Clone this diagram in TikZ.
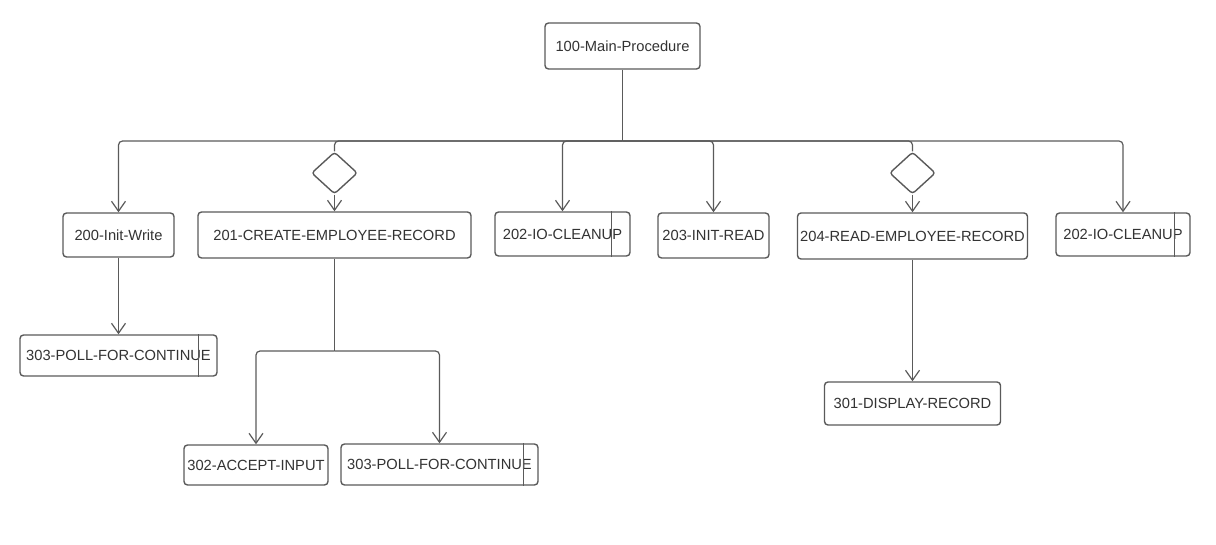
\documentclass[tikz,border=0pt]{standalone}
\usepackage{fontspec}
\setmainfont{Liberation Sans}
\usetikzlibrary{arrows.meta,shapes.geometric}
\definecolor{edge}{HTML}{5A5A5A}
\definecolor{ink}{HTML}{333333}
\begin{document}
\begin{tikzpicture}[x=1pt,y=-1pt,
  box/.style={draw=edge,line width=1.4pt,rounded corners=3.5pt,fill=white,
    inner sep=0pt,text=ink,font=\fontsize{14.7}{17}\selectfont},
  choice/.style={draw=edge,line width=1.4pt,diamond,rounded corners=3pt,
    minimum width=46pt,minimum height=42pt,inner sep=0pt},
  conn/.style={draw=edge,line width=1.2pt,rounded corners=4pt},
  arr/.style={conn,-{Straight Barb[length=10pt,width=14pt,line width=1.2pt]}},
  sub/.style={draw=edge,line width=1.4pt}]
\useasboundingbox (0,0) rectangle (1216,545);

% top level
\node[box,minimum width=155pt,minimum height=46pt] (main) at (622.5,46) {100-Main-Procedure};

% second level
\node[box,minimum width=111pt,minimum height=44pt] (iw)  at (118.5,235) {200-Init-Write};
\node[box,minimum width=273pt,minimum height=46pt] (cer) at (334.5,235) {201-CREATE-EMPLOYEE-RECORD};
\node[box,minimum width=135pt,minimum height=44pt] (cla) at (562.5,234) {202-IO-CLEANUP};
\node[box,minimum width=111pt,minimum height=45pt] (ir)  at (713.5,235.5) {203-INIT-READ};
\node[box,minimum width=230pt,minimum height=46pt] (rer) at (912.5,236) {204-READ-EMPLOYEE-RECORD};
\node[box,minimum width=134pt,minimum height=43pt] (clb) at (1123,234.5) {202-IO-CLEANUP};

% decision diamonds
\node[choice] (dca) at (334.5,173) {};
\node[choice] (dcb) at (912.5,173) {};

% third level
\node[box,minimum width=197pt,minimum height=41pt] (pla) at (118.5,355.5) {303-POLL-FOR-CONTINUE};
\node[box,minimum width=144pt,minimum height=40pt] (ai)  at (256,465) {302-ACCEPT-INPUT};
\node[box,minimum width=197pt,minimum height=41pt] (plb) at (439.5,464.5) {303-POLL-FOR-CONTINUE};
\node[box,minimum width=176pt,minimum height=43pt] (dr)  at (912.5,403.5) {301-DISPLAY-RECORD};

% predefined-process bars
\foreach \n/\d in {cla/19,clb/16,pla/19,plb/15}{
  \draw[sub] ([xshift=-\d pt]\n.north east) -- ([xshift=-\d pt]\n.south east);
}

% bus junctions
\coordinate (bus) at (622.5,141);
\coordinate (split) at (334.5,351);

% main procedure trunk and branches
\draw[conn] (main.south) -- (bus);
\draw[arr] (bus) -| (iw.north);
\draw[conn] (bus) -| (dca.north);
\draw[arr] (bus) -| (cla.north);
\draw[arr] (bus) -| (ir.north);
\draw[conn] (bus) -| (dcb.north);
\draw[arr] (bus) -| (clb.north);
\draw[arr] (dca.south) -- (dca.south |- cer.north);
\draw[arr] (dcb.south) -- (dcb.south |- rer.north);

% lower calls
\draw[arr] (iw.south) -- (pla.north);
\draw[conn] (cer.south) -- (split);
\draw[arr] (split) -| (ai.north);
\draw[arr] (split) -| (plb.north);
\draw[arr] (rer.south) -- (dr.north);
\end{tikzpicture}
\end{document}
